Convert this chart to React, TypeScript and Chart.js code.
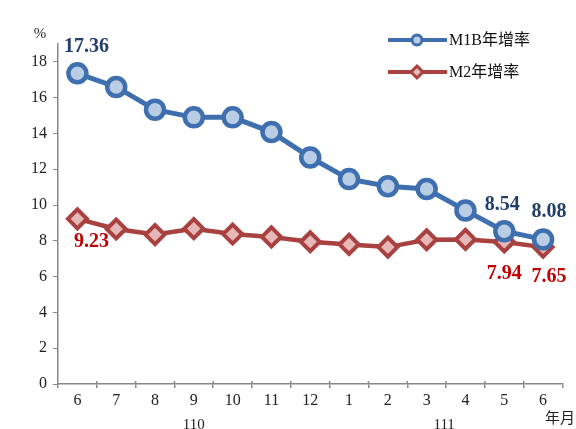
import React, { useEffect, useRef } from "react";
import { Chart, registerables } from "chart.js";

Chart.register(...registerables);

const months = ["6", "7", "8", "9", "10", "11", "12", "1", "2", "3", "4", "5", "6"];
const m1b = [17.36, 16.6, 15.33, 14.9, 14.9, 14.08, 12.66, 11.45, 11.05, 10.9, 9.7, 8.54, 8.08];
const m2 = [9.23, 8.66, 8.35, 8.68, 8.38, 8.22, 7.95, 7.8, 7.65, 8.06, 8.08, 7.94, 7.65];
const yTicks = [0, 2, 4, 6, 8, 10, 12, 14, 16, 18];
const seriesNames = ["M1B年增率", "M2年增率"];
const yearLabels = [
  { text: "110", at: 3.0 },
  { text: "111", at: 9.45 },
];
// labeled points: [seriesIndex, pointIndex, dx, dy]
const valueLabels: [number, number, number, number][] = [
  [0, 0, 9, -27],
  [0, 11, -2, -26],
  [0, 12, 6, -28],
  [1, 0, 14, 23],
  [1, 11, 0, 32],
  [1, 12, 6, 30],
];

const SERIF = '"Liberation Serif", "Times New Roman", "Noto Sans CJK TC", serif';
const BLUE = "#3F6FAF";
const BLUE_FILL = "#B9CDE5";
const RED = "#A8413F";
const RED_FILL = "#E6B9B8";
const BLUE_TEXT = "#223F6B";
const RED_TEXT = "#C00000";

export default function App() {
  const ref = useRef<HTMLCanvasElement>(null);
  useEffect(() => {
    if (!ref.current) return;
    const overlay = {
      id: "overlay",
      afterDraw(chart: any) {
        const ctx = chart.ctx;
        const x = chart.scales.x;
        ctx.save();
        ctx.fillStyle = "#222";
        ctx.font = `15px ${SERIF}`;
        ctx.textAlign = "center";
        ctx.textBaseline = "middle";
        ctx.fillText("%", 40, 34);
        yearLabels.forEach((yl) => {
          const px = x.getPixelForValue(yl.at);
          ctx.fillText(yl.text, px, 425);
        });
        ctx.fillText("年月", 560, 419);
        // x-axis cross ticks (upper half)
        ctx.strokeStyle = "#888";
        ctx.lineWidth = 1.5;
        for (let i = 1; i < months.length; i++) {
          const px = (x.getPixelForValue(i - 1) + x.getPixelForValue(i)) / 2;
          ctx.beginPath();
          ctx.moveTo(px, x.top - 3);
          ctx.lineTo(px, x.top);
          ctx.stroke();
        }
        // legend
        const legendY = [40, 72];
        [0, 1].forEach((i) => {
          const ly = legendY[i];
          ctx.strokeStyle = i === 0 ? BLUE : RED;
          ctx.lineWidth = 4;
          ctx.beginPath();
          ctx.moveTo(388, ly);
          ctx.lineTo(447, ly);
          ctx.stroke();
          ctx.fillStyle = i === 0 ? BLUE_FILL : RED_FILL;
          ctx.lineWidth = 3;
          ctx.beginPath();
          if (i === 0) {
            ctx.arc(417, ly, 5, 0, Math.PI * 2);
          } else {
            ctx.moveTo(417, ly - 6);
            ctx.lineTo(423, ly);
            ctx.lineTo(417, ly + 6);
            ctx.lineTo(411, ly);
            ctx.closePath();
          }
          ctx.fill();
          ctx.stroke();
          ctx.fillStyle = "#111";
          ctx.font = `16px ${SERIF}`;
          ctx.textAlign = "left";
          ctx.fillText(seriesNames[i], 449, ly + 1);
        });
        // value labels
        ctx.font = `bold 20px ${SERIF}`;
        ctx.textAlign = "center";
        valueLabels.forEach(([s, p, dx, dy]) => {
          const el = chart.getDatasetMeta(s).data[p];
          const v = chart.data.datasets[s].data[p] as number;
          ctx.fillStyle = s === 0 ? BLUE_TEXT : RED_TEXT;
          ctx.fillText(v.toFixed(2), el.x + dx, el.y + dy);
        });
        ctx.restore();
      },
    };
    const chart = new Chart(ref.current, {
      type: "line",
      data: {
        labels: months,
        datasets: [
          {
            label: seriesNames[0],
            data: m1b,
            borderColor: BLUE,
            backgroundColor: BLUE_FILL,
            borderWidth: 5,
            pointStyle: "circle",
            pointRadius: 9,
            pointBorderWidth: 4.5,
            pointBorderColor: BLUE,
            pointBackgroundColor: BLUE_FILL,
            tension: 0,
          },
          {
            label: seriesNames[1],
            data: m2,
            borderColor: RED,
            backgroundColor: RED_FILL,
            borderWidth: 4.5,
            pointStyle: "rectRot",
            pointRadius: 9.5,
            pointBorderWidth: 4,
            pointBorderColor: RED,
            pointBackgroundColor: RED_FILL,
            tension: 0,
          },
        ],
      },
      options: {
        animation: false,
        responsive: false,
        maintainAspectRatio: false,
        layout: { padding: { top: 44, right: 11, left: 0, bottom: 0 } },
        plugins: { legend: { display: false }, tooltip: { enabled: false } },
        scales: {
          x: {
            offset: true,
            grid: {
              offset: true,
              drawOnChartArea: false,
              drawTicks: true,
              tickLength: 4,
              color: "#888",
              lineWidth: 1.5,
            },
            border: { color: "#888", width: 1.5 },
            ticks: {
              color: "#222",
              font: { family: SERIF, size: 16 },
              padding: 3,
              maxRotation: 0,
              autoSkip: false,
            },
            afterFit(scale: any) {
              scale.height = 45;
            },
          },
          y: {
            min: 0,
            max: 19,
            afterBuildTicks(scale: any) {
              scale.ticks = yTicks.map((v) => ({ value: v }));
            },
            grid: {
              drawOnChartArea: false,
              drawTicks: true,
              tickLength: 5,
              color: "#888",
            },
            border: { color: "#888", width: 1.5 },
            ticks: {
              color: "#222",
              font: { family: SERIF, size: 16 },
              padding: 6,
            },
            afterFit(scale: any) {
              scale.width = 58;
            },
          },
        },
      },
      plugins: [overlay],
    });
    return () => chart.destroy();
  }, []);
  return (
    <div style={{ position: "absolute", left: 0, top: 0, width: 576, height: 429, background: "#fff" }}>
      <canvas ref={ref} width={576} height={429} style={{ width: 576, height: 429 }} />
    </div>
  );
}
